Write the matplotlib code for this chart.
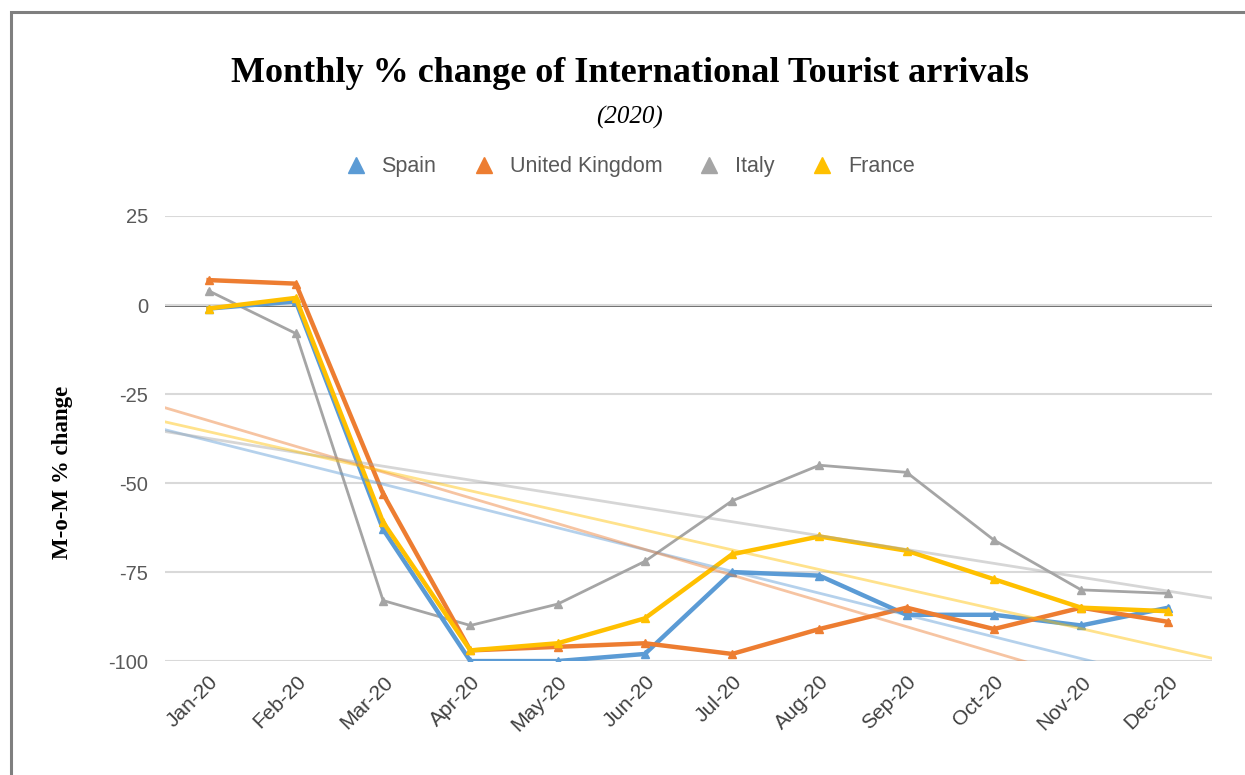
import numpy as np
import matplotlib
matplotlib.use("Agg")
import matplotlib.pyplot as plt
from matplotlib.lines import Line2D
from matplotlib.patches import Rectangle

plt.rcParams["axes.unicode_minus"] = False

months = ["Jan-20", "Feb-20", "Mar-20", "Apr-20", "May-20", "Jun-20",
          "Jul-20", "Aug-20", "Sep-20", "Oct-20", "Nov-20", "Dec-20"]
spain = [-1, 1, -63, -100, -100, -98, -75, -76, -87, -87, -90, -85]
uk = [7, 6, -53, -97, -96, -95, -98, -91, -85, -91, -85, -89]
italy = [4, -8, -83, -90, -84, -72, -55, -45, -47, -66, -80, -81]
france = [-1, 2, -61, -97, -95, -88, -70, -65, -69, -77, -85, -86]

series = [("Spain", spain, "#5B9BD5", 3.2),
          ("United Kingdom", uk, "#ED7D31", 3.2),
          ("Italy", italy, "#A5A5A5", 2.0),
          ("France", france, "#FFC000", 3.2)]

fig = plt.figure(figsize=(12.45, 7.75), dpi=100)
ax = fig.add_axes([0.1325, 0.147, 0.841, 0.5743])

x = np.arange(1, len(months) + 1)
ax.set_xlim(0.5, 12.5)
ax.set_ylim(-100, 25)
ax.set_yticks([25, 0, -25, -50, -75, -100])
ax.grid(axis="y", color="#D9D9D9", linewidth=1.5, zorder=0)
ax.axhline(0, color="#404040", linewidth=1.8, zorder=1)

for name, vals, col, lw in series:
    ax.plot(x, vals, color=col, linewidth=lw, marker="^", markersize=6,
            zorder=3 if name != "Italy" else 2, solid_joinstyle="round")

xt = np.array([0.5, 12.5])
for name, vals, col, lw in series:
    m, b = np.polyfit(x, vals, 1)
    ax.plot(xt, m * xt + b, color=col, linewidth=2.0, alpha=0.45, zorder=4)

for s in ax.spines.values():
    s.set_visible(False)
ax.tick_params(axis="both", length=0, colors="#595959", labelsize=14.5)
ax.set_xticks(x)
ax.set_xticklabels(months, rotation=45, ha="right", rotation_mode="anchor",
                   fontfamily="Liberation Sans", fontsize=15, color="#404040")
for lab in ax.get_yticklabels():
    lab.set_fontfamily("Liberation Sans")
ax.tick_params(axis="y", pad=12)
ax.tick_params(axis="x", pad=8)

fig.text(0.0498, 0.391, "M-o-M % change", rotation=90, ha="center", va="center",
         fontfamily="Liberation Serif", fontweight="bold", fontsize=16.5,
         color="#000000")

fig.text(0.506, 0.905, "Monthly % change of International Tourist arrivals",
         ha="center", va="center", fontfamily="Liberation Serif",
         fontweight="bold", fontsize=26, color="#000000")
fig.text(0.506, 0.848, "(2020)", ha="center", va="center",
         fontfamily="Liberation Serif", fontstyle="italic", fontsize=18,
         color="#000000")

handles = [Line2D([], [], color=col, marker="^", linestyle="None", markersize=11)
           for name, vals, col, lw in series]
leg = fig.legend(handles, [s[0] for s in series], loc="center",
                 bbox_to_anchor=(0.505, 0.785), ncol=4, frameon=False,
                 prop={"family": "Liberation Sans", "size": 15.5},
                 handletextpad=0.6, columnspacing=1.6, handlelength=1.2)
for t in leg.get_texts():
    t.set_color("#595959")

fig.patches.append(Rectangle((0.0085, -0.05), 1.1, 1.034, transform=fig.transFigure,
                             fill=False, edgecolor="#7F7F7F", linewidth=2.2))

fig.savefig("out.png", dpi=100)
